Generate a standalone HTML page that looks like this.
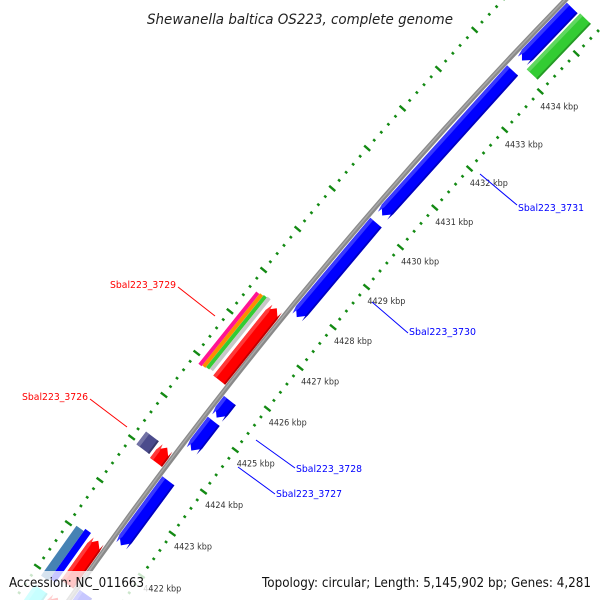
<!DOCTYPE html>
<html><head><meta charset="utf-8"><style>
html,body{margin:0;padding:0;background:#fff;width:600px;height:600px;overflow:hidden;}
svg{display:block;overflow:hidden;}
text{font-family:"DejaVu Sans","Liberation Sans",sans-serif;}
</style></head><body>
<svg id="map" width="600" height="600" viewBox="0 0 600 600" xmlns="http://www.w3.org/2000/svg">
<g id="ticks"></g>
<g id="features"></g>
<g id="backbone"></g>
<g id="ticklabels"></g>
<g>
<line x1="480" y1="174" x2="517" y2="205" stroke="#0000ff" stroke-width="1"/>
<text x="518" y="211" font-size="10" fill="#0000ff" textLength="66" lengthAdjust="spacingAndGlyphs">Sbal223_3731</text>
<line x1="372" y1="302" x2="408" y2="333" stroke="#0000ff" stroke-width="1"/>
<text x="409" y="335" font-size="10" fill="#0000ff" textLength="67" lengthAdjust="spacingAndGlyphs">Sbal223_3730</text>
<line x1="256" y1="440" x2="295" y2="468" stroke="#0000ff" stroke-width="1"/>
<text x="296" y="472" font-size="10" fill="#0000ff" textLength="66" lengthAdjust="spacingAndGlyphs">Sbal223_3728</text>
<line x1="238" y1="467" x2="275" y2="494" stroke="#0000ff" stroke-width="1"/>
<text x="276" y="497" font-size="10" fill="#0000ff" textLength="66" lengthAdjust="spacingAndGlyphs">Sbal223_3727</text>
<line x1="178" y1="287" x2="215" y2="316" stroke="#ff0000" stroke-width="1"/>
<text x="110" y="288" font-size="10" fill="#ff0000" textLength="66" lengthAdjust="spacingAndGlyphs">Sbal223_3729</text>
<line x1="90" y1="399" x2="127" y2="427" stroke="#ff0000" stroke-width="1"/>
<text x="22" y="400" font-size="10" fill="#ff0000" textLength="66" lengthAdjust="spacingAndGlyphs">Sbal223_3726</text>
</g>
<text x="147" y="24" font-size="14" font-style="italic" fill="#222" textLength="306" lengthAdjust="spacingAndGlyphs">Shewanella baltica OS223, complete genome</text>
<rect x="3" y="571" width="145" height="29" fill="#fff" fill-opacity="0.78"/>
<rect x="257" y="571" width="340" height="29" fill="#fff" fill-opacity="0.78"/>
<text x="9" y="587" font-size="13" fill="#111" textLength="135" lengthAdjust="spacingAndGlyphs">Accession: NC_011663</text>
<text x="262" y="587" font-size="13" fill="#111" textLength="329" lengthAdjust="spacingAndGlyphs">Topology: circular; Length: 5,145,902 bp; Genes: 4,281</text>
</svg>
<script>
// ---- data ----
const tickLabelValues = [4422,4423,4424,4425,4426,4427,4428,4429,4430,4431,4432,4433,4434];
const geneNames  = ["g3731b","g3731","g3730","g3728","g3727","g3725","g3729","g3729-pink","g3729-orange","g3729-green","g3729-gray","g3726","g3726b","g3722-steel","g3722-blue","g3722-red","g-cyan","g-red-small","g-blue-bottom","g-green"];
const geneStarts = [4434.19,4430.23,4427.71,4425.27,4424.48,4422.24,4425.86,4425.86,4425.88,4425.90,4425.92,4423.95,4423.90,4420.90,4420.95,4421.05,4420.10,4420.30,4420.40,4434.13];
const geneEnds   = [4435.57,4433.93,4430.05,4425.68,4425.18,4423.76,4427.60,4427.60,4427.62,4427.64,4427.66,4424.25,4424.25,4422.05,4422.10,4422.06,4420.69,4420.74,4421.10,4435.60];
const geneStrand = [-1,-1,-1,-1,-1,-1,1,0,0,0,0,0,1,0,0,1,0,1,-1,0];
const geneTrack  = ["rev","rev","rev","rev","rev","rev","fwd","o1","o2","o3","o4","outer","fwd","oA","oB","fwd","outer","fwd","rev","green"];
const geneColor  = ["#0000ff","#0000ff","#0000ff","#0000ff","#0000ff","#0000ff","#ff0000","#ff1493","#ff8c00","#33cc33","#c8c8c8","#4b4b8c","#ff0000","#4682b4","#0000ff","#ff0000","#00ffff","#ff0000","#0000ff","#33cc33"];

// ---- geometry ----
const CX=4092.6, CY=3422.8, R0=4915;
const TRACKS={fwd:[3,18],rev:[-18,-3],green:[-35,-20],outer:[21,37],
  o1:[33,37],o2:[29,33],o3:[25,29],o4:[21,25],oA:[28,37],oB:[21,28]};
function ang(k){return (36.39+(k-4423)*0.6156)*Math.PI/180;}
function pt(k,d){const a=ang(k),r=R0+d;return [CX-r*Math.cos(a),CY-r*Math.sin(a)];}
const NS='http://www.w3.org/2000/svg';
function poly(points,fill,parent){
  const p=document.createElementNS(NS,'polygon');
  p.setAttribute('points',points.map(q=>q[0].toFixed(2)+','+q[1].toFixed(2)).join(' '));
  p.setAttribute('fill',fill);
  parent.appendChild(p);return p;}
function shade(hex,f){const n=parseInt(hex.slice(1),16);let r=n>>16,g=(n>>8)&255,b=n&255;
  if(f>0){r+= (255-r)*f;g+=(255-g)*f;b+=(255-b)*f;}else{r*=1+f;g*=1+f;b*=1+f;}
  return 'rgb('+Math.round(r)+','+Math.round(g)+','+Math.round(b)+')';}
function shape(s,e,d1,d2,strand){
  const h=0.15,m=(d1+d2)/2;
  if(strand>0){const b=Math.max(s,e-h);return [pt(s,d1),pt(b,d1),pt(e,m),pt(b,d2),pt(s,d2)];}
  if(strand<0){const b=Math.min(e,s+h);return [pt(s,m),pt(b,d1),pt(e,d1),pt(e,d2),pt(b,d2)];}
  return [pt(s,d1),pt(e,d1),pt(e,d2),pt(s,d2)];}

// ---- ticks ----
const tg=document.getElementById('ticks');
for(let i=0;i<=90;i++){
  const k=4419+i*0.2, major=(i%5===0);
  [-45,45].forEach(base=>{
    const half=major?4:1.4;
    const a=pt(k,base-half), b=pt(k,base+half);
    const l=document.createElementNS(NS,'line');
    l.setAttribute('x1',a[0]);l.setAttribute('y1',a[1]);l.setAttribute('x2',b[0]);l.setAttribute('y2',b[1]);
    l.setAttribute('stroke','#138a13');l.setAttribute('stroke-width','2.4');
    
    
    tg.appendChild(l);
  });
}

// ---- features ----
const fg=document.getElementById('features');
for(let i=0;i<geneNames.length;i++){
  const t=TRACKS[geneTrack[i]], col=geneColor[i];
  const g=document.createElementNS(NS,'g');
  
  
  poly(shape(geneStarts[i],geneEnds[i],t[0],t[1],geneStrand[i]),col,g);
  if(t[1]-t[0]>=10){
    const w=t[1]-t[0];
    poly(shape(geneStarts[i],geneEnds[i],t[1]-w*0.25,t[1],geneStrand[i]),shade(col,0.22),g);
    poly(shape(geneStarts[i],geneEnds[i],t[0],t[0]+w*0.12,geneStrand[i]),shade(col,-0.25),g);
  }
  fg.appendChild(g);
}

// ---- backbone ----
const bb=document.getElementById('backbone');
const c1=document.createElementNS(NS,'circle');
c1.setAttribute('cx',CX);c1.setAttribute('cy',CY);c1.setAttribute('r',R0);
c1.setAttribute('fill','none');c1.setAttribute('stroke','#8a8a8a');c1.setAttribute('stroke-width','5');


bb.appendChild(c1);
const c2=document.createElementNS(NS,'circle');
c2.setAttribute('cx',CX);c2.setAttribute('cy',CY);c2.setAttribute('r',R0+0.5);
c2.setAttribute('fill','none');c2.setAttribute('stroke','#a8a8a8');c2.setAttribute('stroke-width','1.5');


bb.appendChild(c2);

// ---- tick labels ----
const lg=document.getElementById('ticklabels');
tickLabelValues.forEach(k=>{
  const p=pt(k,-67);
  const t=document.createElementNS(NS,'text');
  t.setAttribute('x',(p[0]+3).toFixed(1));t.setAttribute('y',(p[1]+3).toFixed(1));
  t.setAttribute('text-anchor','middle');t.setAttribute('font-size','9');t.setAttribute('fill','#333');
  t.setAttribute('textLength','38');t.setAttribute('lengthAdjust','spacingAndGlyphs');
  t.textContent=k+' kbp';
  
  
  lg.appendChild(t);
});
</script>
</body></html>
